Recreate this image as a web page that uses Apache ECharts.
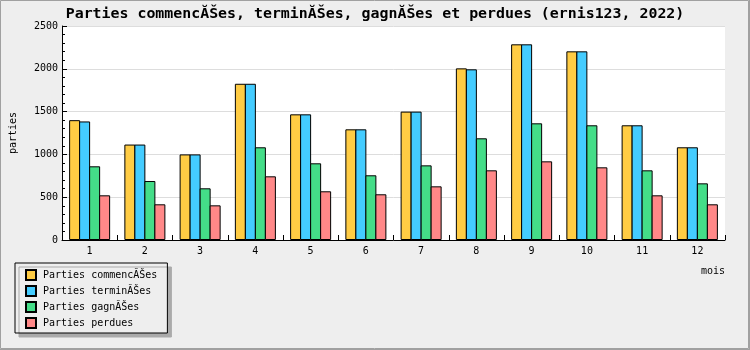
<!DOCTYPE html>
<html>
<head>
<meta charset="utf-8">
<script src="https://cdn.jsdelivr.net/npm/echarts@6/dist/echarts.min.js"></script>
<style>html,body{margin:0;padding:0;background:#eeeeee;}#c{width:750px;height:350px;}</style>
</head>
<body>
<div id="c"></div>
<script>
const months = ['1','2','3','4','5','6','7','8','9','10','11','12'];
const commencees = [1400, 1115, 1000, 1825, 1468, 1293, 1500, 2005, 2286, 2204, 1340, 1083];
const terminees  = [1385, 1115, 1000, 1825, 1468, 1293, 1500, 1994, 2286, 2204, 1340, 1083];
const gagnees    = [861, 689, 604, 1083, 896, 756, 872, 1188, 1363, 1340, 814, 662];
const perdues    = [522, 417, 405, 744, 569, 534, 627, 814, 919, 849, 522, 417];
const seriesNames = ['Parties commencĂŠes', 'Parties terminĂŠes', 'Parties gagnĂŠes', 'Parties perdues'];
const colors = ['#ffcc44', '#44ccff', '#44dd88', '#ff8888'];
const titleText = 'Parties commencĂŠes, terminĂŠes, gagnĂŠes et perdues (ernis123, 2022)';

const mono = 'DejaVu Sans Mono';
const chart = echarts.init(document.getElementById('c'), null, {renderer: 'canvas'});
const dataSets = [commencees, terminees, gagnees, perdues];
chart.setOption({
  backgroundColor: '#eeeeee',
  animation: false,
  title: {
    text: titleText, left: 'center', top: 2,
    textStyle: {fontFamily: mono, fontSize: 14.9, fontWeight: 'bold', color: '#000'}
  },
  grid: {left: 61, right: 25, top: 26, bottom: 110, show: true, backgroundColor: '#ffffff', borderWidth: 0},
  legend: {
    orient: 'vertical', left: 15, top: 263,
    padding: [6, 10, 4, 10],
    itemWidth: 10, itemHeight: 10, itemGap: 4,
    backgroundColor: '#eeeeee', borderColor: '#000', borderWidth: 1,
    shadowColor: '#aaaaaa', shadowBlur: 0, shadowOffsetX: 4, shadowOffsetY: 4,
    icon: 'rect',
    textStyle: {fontFamily: mono, fontSize: 10, color: '#000', padding: [0, 0, 0, 2]},
    data: seriesNames
  },
  xAxis: {
    type: 'category', data: months,
    axisLine: {lineStyle: {color: '#000', width: 1}},
    axisTick: {show: true, inside: true, length: 5, lineStyle: {color: '#000'}},
    axisLabel: {fontFamily: mono, fontSize: 10, color: '#000', margin: 6},
    splitLine: {show: false}
  },
  yAxis: {
    type: 'value', min: 0, max: 2500, interval: 500,
    name: 'parties', nameLocation: 'middle', nameRotate: 90, nameGap: 44,
    nameTextStyle: {fontFamily: mono, fontSize: 10, color: '#000'},
    axisLine: {show: true, lineStyle: {color: '#000', width: 1}},
    axisTick: {show: true, inside: true, length: 5, lineStyle: {color: '#000'}},
    minorTick: {show: true, splitNumber: 5, length: 3, lineStyle: {color: '#000'}},
    axisLabel: {fontFamily: mono, fontSize: 10, color: '#000', margin: 4, formatter: v => String(v)},
    splitLine: {show: true, lineStyle: {color: '#dddddd', width: 1}}
  },
  series: dataSets.map((d, i) => ({
    name: seriesNames[i], type: 'bar', data: d,
    barWidth: 11, barGap: '-9.09%',
    itemStyle: {color: colors[i], borderColor: '#000', borderWidth: 1}
  })),
  graphic: [
    {type: 'text', right: 25, top: 266, style: {text: 'mois', font: '10px ' + mono, fill: '#000'}},
    {type: 'rect', silent: true, shape: {x: 0.5, y: 0.5, width: 748, height: 348}, style: {fill: null, stroke: '#a0a0a0', lineWidth: 1}},
    {type: 'line', silent: true, shape: {x1: 749.5, y1: 0, x2: 749.5, y2: 350}, style: {stroke: '#a0a0a0', lineWidth: 1}},
    {type: 'line', silent: true, shape: {x1: 0, y1: 349.5, x2: 750, y2: 349.5}, style: {stroke: '#a0a0a0', lineWidth: 1}}
  ]
});
</script>
</body>
</html>
